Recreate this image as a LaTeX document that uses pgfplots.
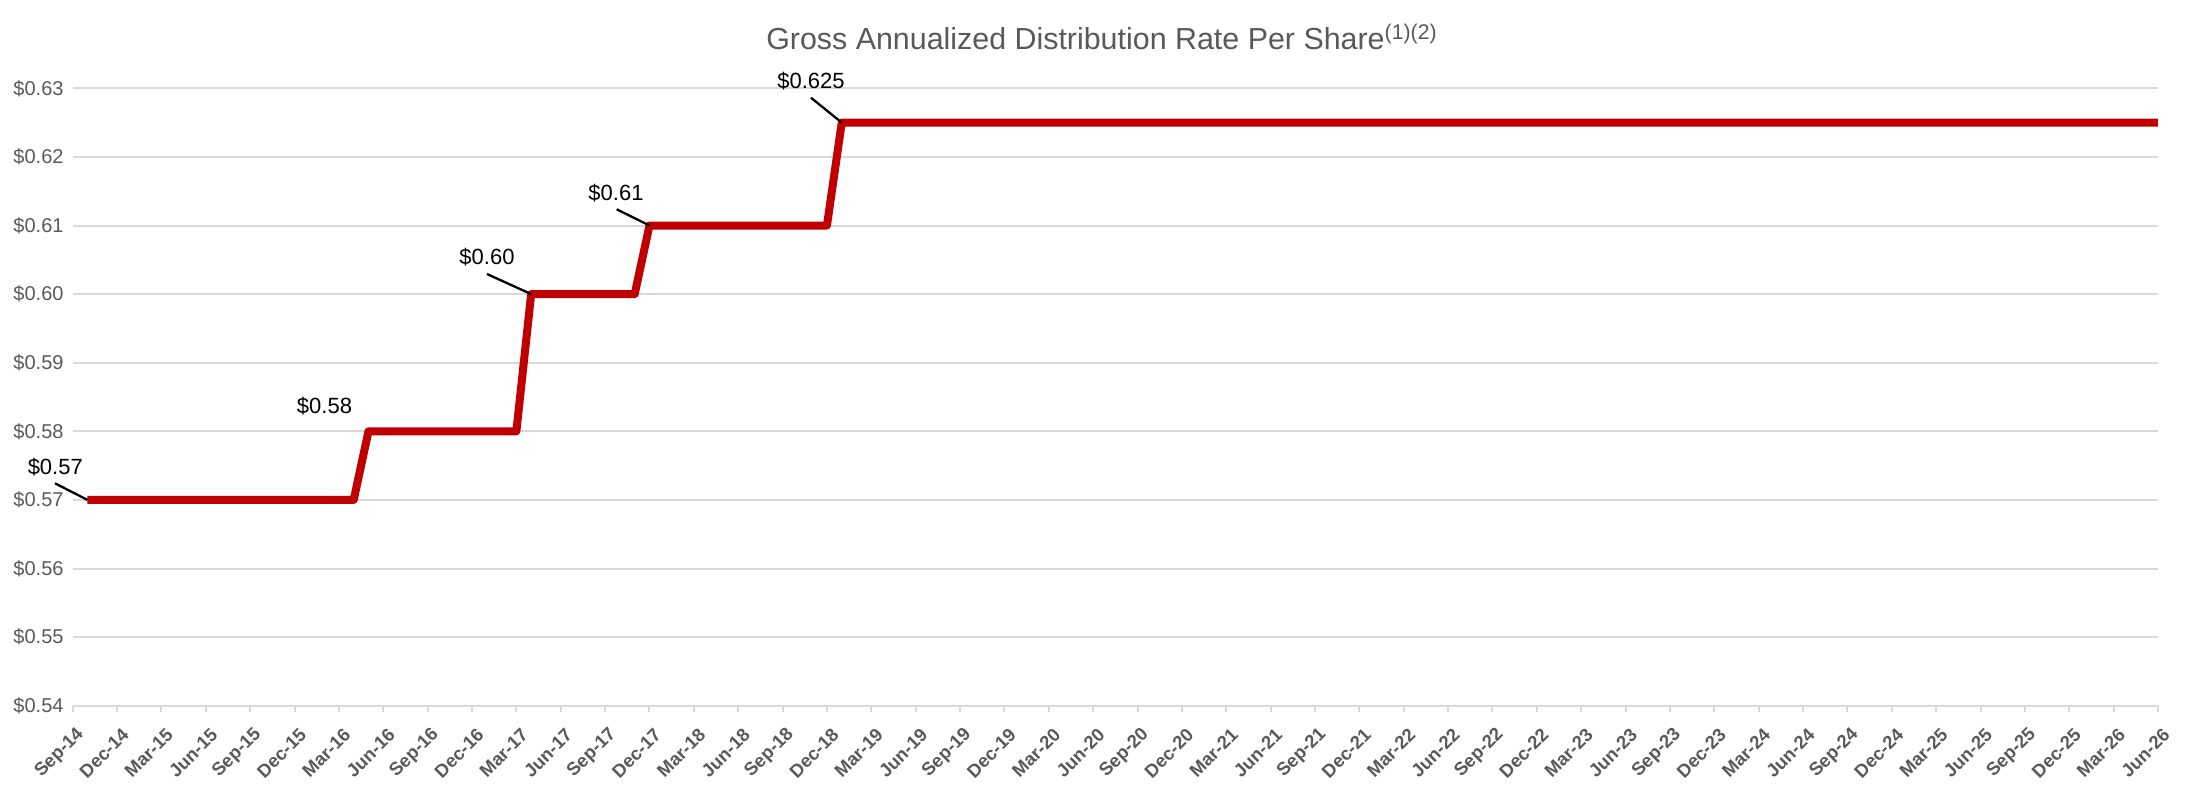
\documentclass[border=0pt]{standalone}
\usepackage{fontspec}
\setmainfont{Liberation Sans}
\usepackage{pgfplots}
\pgfplotsset{compat=1.18}

\definecolor{linered}{HTML}{C00000}
\definecolor{gridgray}{HTML}{D9D9D9}
\definecolor{textgray}{HTML}{595959}

\tikzset{
    lbl/.style={font=\fontsize{11}{13}\selectfont, text=black, inner sep=0pt},
    lead/.style={black, line width=1.15pt},
}

\begin{document}
\begin{tikzpicture}
\useasboundingbox (0,0) rectangle (1100pt,401pt);
\begin{axis}[
    at={(36.35pt,48.15pt)}, anchor=south west,
    width=1042.65pt, height=308.7pt, scale only axis,
    xmin=0, xmax=141,
    ymin=0.54, ymax=0.63,
    clip=false,
    axis line style={draw=none},
    ymajorgrids,
    major grid style={gridgray, line width=1pt},
    tick align=outside,
    major tick length=3pt,
    xtick pos=bottom, ytick pos=left,
    xtick style={gridgray, line width=1pt},
    ytick style={draw=none},
    /pgf/number format/assume math mode=true,
    ytick={0.54,0.55,0.56,0.57,0.58,0.59,0.60,0.61,0.62,0.63},
    yticklabel={\$\pgfmathprintnumber[fixed,fixed zerofill,precision=2]{\tick}},
    yticklabel style={anchor=east, inner sep=0pt, xshift=-1.4pt,
        font=\fontsize{10}{12}\selectfont, text=textgray},
    xtick={0,3,...,141},
    xticklabels={Sep-14,Dec-14,Mar-15,Jun-15,Sep-15,Dec-15,Mar-16,Jun-16,
        Sep-16,Dec-16,Mar-17,Jun-17,Sep-17,Dec-17,Mar-18,Jun-18,
        Sep-18,Dec-18,Mar-19,Jun-19,Sep-19,Dec-19,Mar-20,Jun-20,
        Sep-20,Dec-20,Mar-21,Jun-21,Sep-21,Dec-21,Mar-22,Jun-22,
        Sep-22,Dec-22,Mar-23,Jun-23,Sep-23,Dec-23,Mar-24,Jun-24,
        Sep-24,Dec-24,Mar-25,Jun-25,Sep-25,Dec-25,Mar-26,Jun-26},
    xticklabel style={xshift=4.3pt, yshift=-10pt, rotate=45, anchor=east,
        inner sep=0pt, font=\fontsize{9.2}{11}\selectfont\bfseries, text=textgray},
]
% monthly steps, x = months since Sep-14
\addplot[linered, line width=4pt, line join=round, mark=none] coordinates {
    (1,0.57) (19,0.57) (20,0.58) (30,0.58) (31,0.60) (38,0.60)
    (39,0.61) (51,0.61) (52,0.625) (141,0.625)
};

\draw[lead] ([xshift=-16.25pt,yshift=8.3pt]axis cs:1,0.57) -- (axis cs:1,0.57);
\node[lbl, xshift=-16.1pt, yshift=16.45pt] at (axis cs:1,0.57) {\$0.57};

\node[lbl, xshift=-22pt, yshift=12.65pt] at (axis cs:20,0.58) {\$0.58};

\draw[lead] ([xshift=-22.1pt,yshift=10.05pt]axis cs:31,0.60) -- (axis cs:31,0.60);
\node[lbl, xshift=-22.1pt, yshift=18.55pt] at (axis cs:31,0.60) {\$0.60};

\draw[lead] ([xshift=-16.4pt,yshift=8.1pt]axis cs:39,0.61) -- (axis cs:39,0.61);
\node[lbl, xshift=-16.75pt, yshift=16.4pt] at (axis cs:39,0.61) {\$0.61};

\draw[lead] ([xshift=-15.4pt,yshift=12.45pt]axis cs:52,0.625) -- (axis cs:52,0.625);
\node[lbl, xshift=-15.4pt, yshift=20.8pt] at (axis cs:52,0.625) {\$0.625};
\end{axis}

\node[anchor=base, font=\fontsize{15.2}{18}\selectfont, text=textgray]
    at (551pt,376pt) {Gross Annualized Distribution Rate Per Share\textsuperscript{(1)(2)}};
\end{tikzpicture}
\end{document}
